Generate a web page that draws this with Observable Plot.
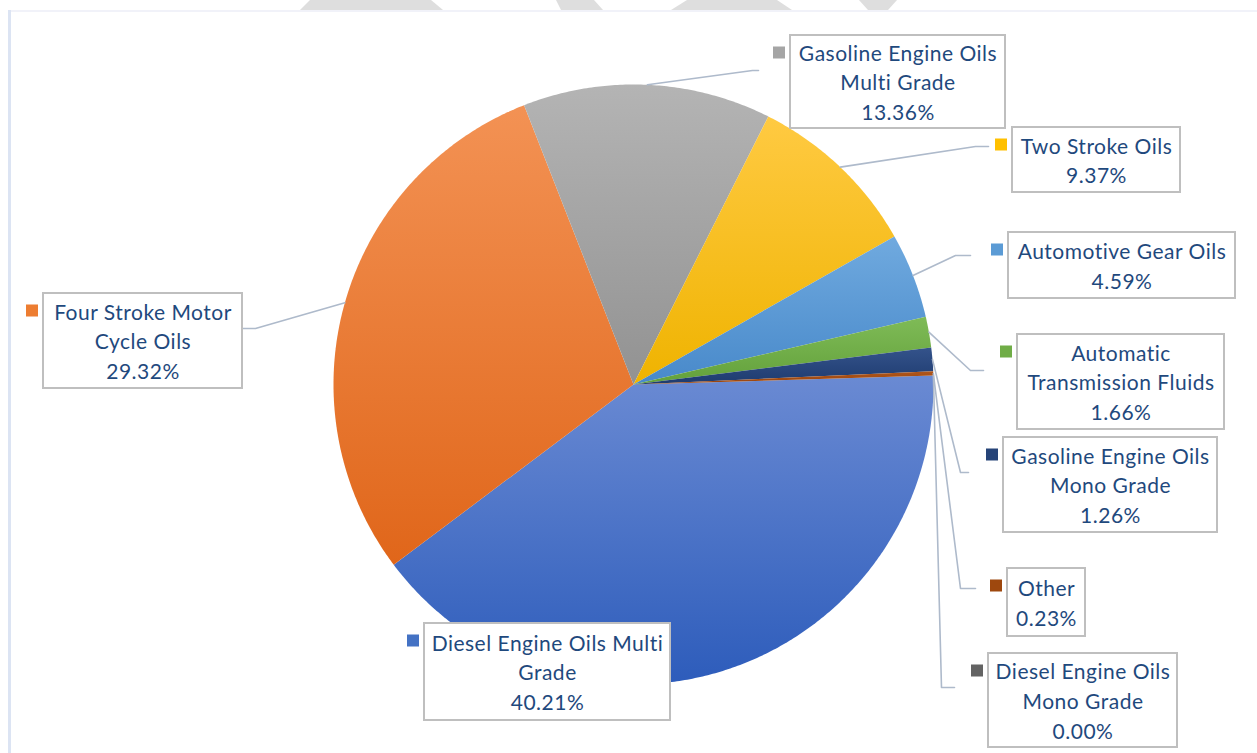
<!DOCTYPE html>
<html>
<head>
<meta charset="utf-8">
<script src="https://cdn.jsdelivr.net/npm/d3@7"></script>
<script src="https://cdn.jsdelivr.net/npm/@observablehq/plot@0.6"></script>
<style>
  html, body { margin: 0; padding: 0; background: #ffffff; }
  #wrap { position: relative; width: 1257px; height: 753px; overflow: hidden; }
  #deco { position: absolute; left: 0; top: 0; width: 1257px; height: 753px; pointer-events: none; }
  #frameTop { position: absolute; left: 8px; top: 10px; width: 1249px; height: 2px; background: #f1f2f9; }
  #frameLeft { position: absolute; left: 8px; top: 10px; width: 3px; height: 743px; background: #dce4f3; }
</style>
</head>
<body>
<div id="wrap">
  <div id="chart"></div>
  <div id="deco">
    <svg width="1257" height="10" style="position:absolute;left:0;top:0">
      <polygon points="310,0 431,0 443,10 300,10" fill="#dedede"/>
      <polygon points="556,0 594,0 603,10 561,10" fill="#dedede"/>
      <polygon points="687,0 777,0 792,10 671,10" fill="#dedede"/>
      <polygon points="859,0 897,0 888,10 868,10" fill="#dedede"/>
    </svg>
    <div id="frameTop"></div>
    <div id="frameLeft"></div>
  </div>
</div>
<script>
// ---------- data ----------
const categories = [
  "Diesel Engine Oils Multi Grade",
  "Four Stroke Motor Cycle Oils",
  "Gasoline Engine Oils Multi Grade",
  "Two Stroke Oils",
  "Automotive Gear Oils",
  "Automatic Transmission Fluids",
  "Gasoline Engine Oils Mono Grade",
  "Other",
  "Diesel Engine Oils Mono Grade"
];
const shares = [40.21, 29.32, 13.36, 9.37, 4.59, 1.66, 1.26, 0.23, 0.00];
const labelLines = [
  "Diesel Engine Oils Multi\nGrade",
  "Four Stroke Motor\nCycle Oils",
  "Gasoline Engine Oils\nMulti Grade",
  "Two Stroke Oils",
  "Automotive Gear Oils",
  "Automatic\nTransmission Fluids",
  "Gasoline Engine Oils\nMono Grade",
  "Other",
  "Diesel Engine Oils\nMono Grade"
];

// ---------- styles ----------
const baseColors = ["#4472c4", "#ed7d31", "#a5a5a5", "#ffc000", "#5b9bd5", "#70ad47", "#264478", "#9e480e", "#636363"];
const gradTop    = ["#6a8ad3", "#f39254", "#b4b4b4", "#ffca42", "#70aadf", "#7fbb57", "#34538b", "#b0561b", "#707070"];
const gradBottom = ["#2d5cbb", "#e0661a", "#929292", "#efb300", "#4889ca", "#63a13b", "#1e3b6f", "#98430c", "#575757"];

// ---------- layout ----------
const W = 1257, H = 753;
const pieCx = 633, pieCy = 384, pieR = 300, startDeg = 88.3;
const boxes = [
  [424, 623, 670, 720],
  [43, 293, 242, 388],
  [790, 35, 1005, 128],
  [1012, 127, 1180, 192],
  [1008, 232, 1235, 298],
  [1017, 334, 1224, 429],
  [1003, 437, 1217, 532],
  [1007, 568, 1085, 636],
  [988, 653, 1177, 747]
];
const leaderBends = [
  null,
  [[255, 328], [242, 328]],
  [[752, 70], [758, 70]],
  [[975, 146], [988, 146]],
  [[955, 255], [970, 255]],
  [[970, 370], [983, 370]],
  [[960, 472], [968, 472]],
  [[960, 588], [975, 588]],
  [[941, 687], [954, 687]]
];

// ---------- derived geometry ----------
const total = d3.sum(shares);
const pt = (deg, r) => {
  const a = deg * Math.PI / 180;
  return [pieCx + r * Math.sin(a), pieCy - r * Math.cos(a)];
};
const slicePts = [];
const leaderPts = [];
let acc = startDeg;
shares.forEach((v, i) => {
  const span = v / total * 360;
  const a0 = acc, a1 = acc + span;
  acc = a1;
  if (span > 0) {
    const n = Math.max(2, Math.ceil(span / 0.5));
    slicePts.push({i, x: pieCx, y: pieCy, g: `url(#sliceGrad${i})`});
    for (let k = 0; k <= n; k++) {
      const [x, y] = pt(a0 + span * k / n, pieR);
      slicePts.push({i, x, y, g: `url(#sliceGrad${i})`});
    }
  }
  if (leaderBends[i]) {
    const [sx, sy] = pt((a0 + a1) / 2, pieR);
    leaderPts.push({i, x: sx, y: sy});
    leaderBends[i].forEach(([x, y]) => leaderPts.push({i, x, y}));
  }
});

const labels = categories.map((c, i) => ({
  i,
  x1: boxes[i][0], y1: boxes[i][1], x2: boxes[i][2], y2: boxes[i][3],
  cx: (boxes[i][0] + boxes[i][2]) / 2,
  cy: (boxes[i][1] + boxes[i][3]) / 2 - 1,
  text: labelLines[i] + "\n" + shares[i].toFixed(2) + "%",
  color: baseColors[i]
}));

const plot = Plot.plot({
  width: W,
  height: H,
  margin: 0,
  style: {background: "transparent", fontFamily: "Lato, 'Open Sans', sans-serif"},
  x: {domain: [0, W], range: [0, W], axis: null},
  y: {domain: [0, H], range: [0, H], axis: null},
  color: {type: "identity"},
  marks: [
    Plot.line(slicePts, {x: "x", y: "y", z: "i", fill: "g", stroke: "none", curve: "linear-closed"}),
    Plot.line(leaderPts, {x: "x", y: "y", z: "i", stroke: "#aebacb", strokeWidth: 1.6, curve: "linear"}),
    Plot.rect(labels, {x1: "x1", x2: "x2", y1: "y1", y2: "y2", fill: "white", stroke: "#bfbfbf", strokeWidth: 2}),
    Plot.rect(labels, {x1: d => d.x1 - 17, x2: d => d.x1 - 5, y1: d => d.y1 + 11.5, y2: d => d.y1 + 23.5, fill: "color"}),
    Plot.text(labels, {x: "cx", y: "cy", text: "text", fill: "#1f497d", fontSize: 21, lineHeight: 1.41, lineAnchor: "middle", textAnchor: "middle", style: "letter-spacing: 0.5px"})
  ]
});

// gradient definitions for slices
const defs = d3.select(plot).insert("defs", ":first-child");
baseColors.forEach((c, i) => {
  const g = defs.append("linearGradient").attr("id", `sliceGrad${i}`)
    .attr("x1", 0).attr("y1", 0).attr("x2", 0).attr("y2", 1);
  g.append("stop").attr("offset", "0%").attr("stop-color", gradTop[i]);
  g.append("stop").attr("offset", "100%").attr("stop-color", gradBottom[i]);
});
d3.select(plot).selectAll("text").style("letter-spacing", "0.5px");

document.getElementById("chart").appendChild(plot);
</script>
</body>
</html>
